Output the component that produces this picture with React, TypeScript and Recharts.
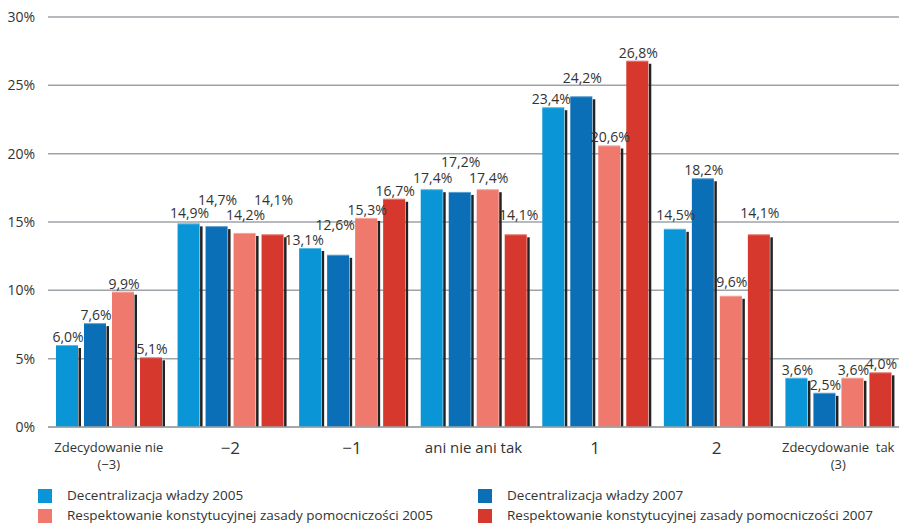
import React from 'react';
import { BarChart, Bar, XAxis, YAxis, CartesianGrid, Legend, LabelList } from 'recharts';

const CATEGORIES = ['Zdecydowanie nie\n(−3)', '−2', '−1', 'ani nie ani tak', '1', '2', 'Zdecydowanie  tak\n(3)'];

const DECENTRALIZACJA_2005 = [6.0, 14.9, 13.1, 17.4, 23.4, 14.5, 3.6];
const DECENTRALIZACJA_2007 = [7.6, 14.7, 12.6, 17.2, 24.2, 18.2, 2.5];
const POMOCNICZOSC_2005 = [9.9, 14.2, 15.3, 17.4, 20.6, 9.6, 3.6];
const POMOCNICZOSC_2007 = [5.1, 14.1, 16.7, 14.1, 26.8, 14.1, 4.0];

const Y_TICKS = [0, 5, 10, 15, 20, 25, 30];

// extra lift / sideways nudge (px) for value labels that would otherwise collide
const LABEL_LIFT = [
  [0, 2, 0, 3, 0, 6, 0],
  [0, 18, 22, 22, 10, 0, 0],
  [0, 10, 0, 3, 0, 6, 0],
  [0, 26, 0, 11, 0, 13, 0],
];
const LABEL_SHIFT = [
  [0, 0, -7, 0, -3, 0, 0],
  [0, 0, -4, 0, 0, 0, 0],
  [0, 0, 0, 0, 0, 0, 0],
  [0, 0, 0, 2, 0, 0, 0],
];

const SERIES = [
  { key: 'd2005', name: 'Decentralizacja władzy 2005', color: '#0a96d6', values: DECENTRALIZACJA_2005 },
  { key: 'd2007', name: 'Decentralizacja władzy 2007', color: '#0a6fb6', values: DECENTRALIZACJA_2007 },
  { key: 'p2005', name: 'Respektowanie konstytucyjnej zasady pomocniczości 2005', color: '#ef796c', values: POMOCNICZOSC_2005 },
  { key: 'p2007', name: 'Respektowanie konstytucyjnej zasady pomocniczości 2007', color: '#d6382e', values: POMOCNICZOSC_2007 },
];

const data = CATEGORIES.map((cat, i) => {
  const row: Record<string, string | number> = { cat };
  SERIES.forEach((s) => { row[s.key] = s.values[i]; });
  return row;
});

const FONT = '"Open Sans", sans-serif';
const TEXT = '#333';

const fmt = (v: number) => v.toFixed(1).replace('.', ',') + '%';

// bar with a thin dark drop shadow on its right side
const ShadowBar = (props: any) => {
  const { x, y, width, height, fill } = props;
  if (!height || height <= 0) return null;
  return (
    <g>
      <rect x={x + width + 0.5} y={y + 3} width={2.5} height={height - 3} fill="#232323" />
      <rect x={x} y={y} width={width} height={height} fill={fill} />
      <rect x={x} y={y} width={width} height={1} fill="#fff" fillOpacity={0.35} />
    </g>
  );
};

const valueLabel = (series: number) => (props: any) => {
  const { x, y, width, value, index } = props;
  const lift = LABEL_LIFT[series][index] || 0;
  const shift = LABEL_SHIFT[series][index] || 0;
  return (
    <text
      x={x + width / 2 + 1 + shift}
      y={y - 3 - lift}
      textAnchor="middle"
      fontFamily={FONT}
      fontSize={14}
      fill={TEXT}
    >
      {fmt(Number(value))}
    </text>
  );
};

const YTick = ({ y, payload }: any) => (
  <text x={35} y={y} dy={5} textAnchor="end" fontFamily={FONT} fontSize={14} fill={TEXT}>
    {payload.value}%
  </text>
);

const CategoryTick = ({ x, y, payload }: any) => {
  const lines = String(payload.value).split('\n');
  if (lines.length > 1) {
    return (
      <g>
        {lines.map((line, i) => (
          <text key={i} x={x} y={y + 25 + i * 17} textAnchor="middle" fontFamily={FONT} fontSize={13} fill={TEXT} style={{ whiteSpace: 'pre' }}>
            {line}
          </text>
        ))}
      </g>
    );
  }
  const big = lines[0].length <= 2;
  return (
    <text x={x} y={y + (big ? 27 : 26)} textAnchor="middle" fontFamily={FONT} fontSize={big ? 17 : 15} fill={TEXT}>
      {lines[0]}
    </text>
  );
};

const LegendBox = () => {
  const cols = [38, 478];
  const rows = [489, 509];
  return (
    <svg width={899} height={36} style={{ display: 'block', overflow: 'visible' }}>
      {[0, 2, 1, 3].map((si, k) => {
        const s = SERIES[si];
        const cx = cols[Math.floor(k / 2)];
        const ry = rows[k % 2] - 488;
        return (
          <g key={s.key}>
            <rect x={cx} y={ry} width={14} height={14} fill={s.color} />
            <text x={cx + 29} y={ry + 11} fontFamily={FONT} fontSize={13.5} fill={TEXT}>
              {s.name}
            </text>
          </g>
        );
      })}
    </svg>
  );
};

export default function App() {
  return (
    <div style={{ position: 'absolute', left: 0, top: 0, width: 899, height: 524, background: '#fff' }}>
      <BarChart
        width={899}
        height={524}
        data={data}
        margin={{ top: 17, right: 0, left: 0, bottom: 0 }}
        barSize={22}
        barGap={6}
      >
        <CartesianGrid vertical={false} stroke="#9ea3a8" strokeWidth={1.5} />
        <XAxis
          dataKey="cat"
          interval={0}
          height={61}
          tickLine={false}
          tickSize={0}
          tickMargin={0}
          axisLine={{ stroke: '#9ea3a8', strokeWidth: 1.5 }}
          tick={<CategoryTick />}
        />
        <YAxis
          domain={[0, 30]}
          ticks={Y_TICKS}
          width={48}
          axisLine={false}
          tickLine={false}
          tick={<YTick />}
        />
        <Legend verticalAlign="bottom" height={36} wrapperStyle={{ left: 0, bottom: 0, overflow: 'visible' }} content={<LegendBox />} />
        {SERIES.map((s, si) => (
          <Bar key={s.key} dataKey={s.key} name={s.name} fill={s.color} shape={<ShadowBar />} isAnimationActive={false}>
            <LabelList dataKey={s.key} content={valueLabel(si)} />
          </Bar>
        ))}
      </BarChart>
    </div>
  );
}
